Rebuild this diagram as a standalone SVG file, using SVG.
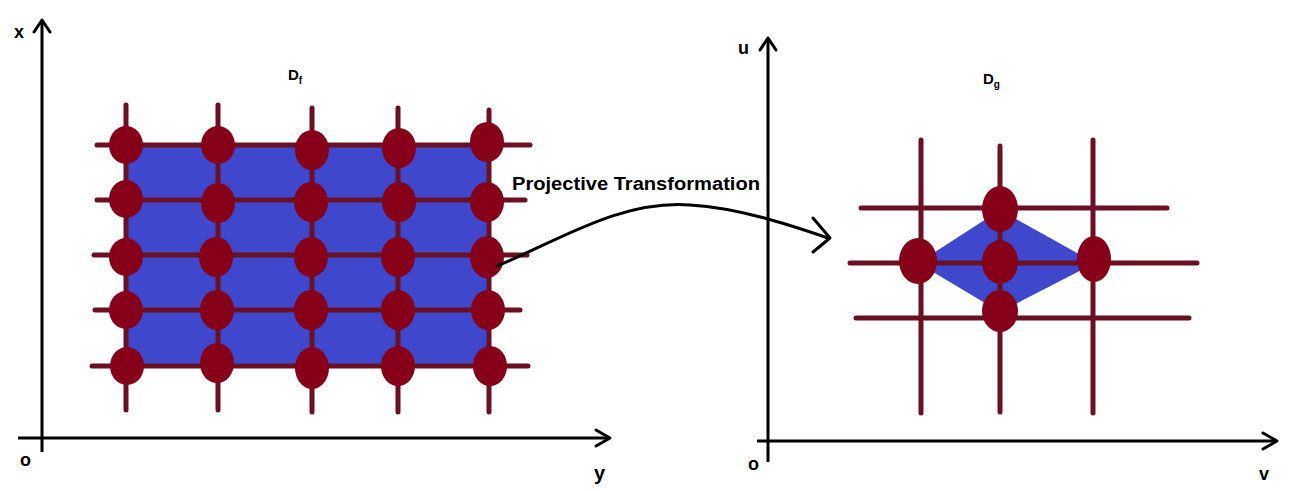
<svg xmlns="http://www.w3.org/2000/svg" width="1292" height="491" viewBox="0 0 1292 491">
<style>
.ax{stroke:#000;stroke-width:3;fill:none}
.ah{stroke:#000;stroke-width:3;fill:none;stroke-linecap:round;stroke-linejoin:round}
.gl{stroke:#6b0f22;stroke-width:5;stroke-linecap:round}
.dot{fill:#860019}
.reg{fill:#3f48cc}
text{font-family:"Liberation Sans",Arial,sans-serif;font-weight:bold;fill:#000}
</style>
<rect width="1292" height="491" fill="#fff"/>
<g id="axes-left">
<line class="ax" x1="42" y1="452" x2="42" y2="20"/>
<polyline class="ah" points="34,32 42,20 50,32"/>
<line class="ax" x1="18" y1="438" x2="610" y2="438"/>
<polyline class="ah" points="596,430 610,438 596,446"/>
<text x="14" y="38" font-size="18">x</text>
<text x="20" y="466" font-size="18">o</text>
<text x="594" y="480" font-size="20">y</text>
</g>
<g id="axes-right">
<line class="ax" x1="768" y1="462" x2="768" y2="38"/>
<polyline class="ah" points="760,50 768,38 776,50"/>
<line class="ax" x1="757" y1="441" x2="1277" y2="441"/>
<polyline class="ah" points="1263,433 1277,441 1263,449"/>
<text x="738" y="54" font-size="18">u</text>
<text x="748" y="470" font-size="18">o</text>
<text x="1259" y="480" font-size="18">v</text>
</g>
<g id="Df">
<rect class="reg" x="126" y="145" width="363" height="221"/>
<g>
<line class="gl" x1="126" y1="105" x2="126" y2="410"/>
<line class="gl" x1="218" y1="105" x2="218" y2="410"/>
<line class="gl" x1="312" y1="108" x2="312" y2="412"/>
<line class="gl" x1="398" y1="108" x2="398" y2="412"/>
<line class="gl" x1="489" y1="110" x2="489" y2="412"/>
<line class="gl" x1="97" y1="145" x2="530" y2="145"/>
<line class="gl" x1="97" y1="200" x2="525" y2="200"/>
<line class="gl" x1="94" y1="255" x2="527" y2="255"/>
<line class="gl" x1="95" y1="310" x2="520" y2="310"/>
<line class="gl" x1="92" y1="366" x2="528" y2="366"/>
</g>
<g class="dot">
<ellipse cx="126" cy="145" rx="17" ry="19"/><ellipse cx="218" cy="145" rx="17" ry="19"/><ellipse cx="312" cy="150" rx="17" ry="20"/><ellipse cx="399" cy="148" rx="17" ry="20"/><ellipse cx="487" cy="142" rx="17" ry="20"/>
<ellipse cx="126" cy="199" rx="17" ry="19"/><ellipse cx="218" cy="203" rx="17" ry="20"/><ellipse cx="311" cy="202" rx="17" ry="20"/><ellipse cx="399" cy="202" rx="17" ry="20"/><ellipse cx="487" cy="202" rx="17" ry="20"/>
<ellipse cx="126" cy="257" rx="17" ry="19"/><ellipse cx="216" cy="257" rx="17" ry="20"/><ellipse cx="311" cy="257" rx="17" ry="20"/><ellipse cx="398" cy="257" rx="17" ry="20"/><ellipse cx="487" cy="257" rx="17" ry="21"/>
<ellipse cx="126" cy="310" rx="17" ry="19"/><ellipse cx="217" cy="310" rx="17" ry="20"/><ellipse cx="311" cy="310" rx="17" ry="20"/><ellipse cx="398" cy="310" rx="17" ry="20"/><ellipse cx="488" cy="310" rx="17" ry="20"/>
<ellipse cx="127" cy="366" rx="17" ry="19"/><ellipse cx="217" cy="363" rx="17" ry="20"/><ellipse cx="312" cy="368" rx="17" ry="21"/><ellipse cx="398" cy="366" rx="17" ry="20"/><ellipse cx="490" cy="366" rx="17" ry="20"/>
</g>
<text x="288" y="80" font-size="15">D<tspan font-size="10" dy="4">f</tspan></text>
</g>
<g id="Dg">
<polygon class="reg" points="918,263 1000,210 1095,263 1000,312"/>
<line class="gl" x1="921" y1="140" x2="921" y2="413"/>
<line class="gl" x1="1000" y1="146" x2="1000" y2="412"/>
<line class="gl" x1="1093" y1="140" x2="1093" y2="413"/>
<line class="gl" x1="861" y1="208" x2="1167" y2="208"/>
<line class="gl" x1="850" y1="263" x2="1197" y2="263"/>
<line class="gl" x1="856" y1="318" x2="1189" y2="318"/>
<g class="dot">
<ellipse cx="1000" cy="209" rx="18" ry="23"/>
<ellipse cx="918" cy="261" rx="19" ry="23"/>
<ellipse cx="1000" cy="262" rx="18" ry="22"/>
<ellipse cx="1094" cy="259" rx="17" ry="23"/>
<ellipse cx="1000" cy="311" rx="18" ry="21"/>
</g>
<text x="983" y="84" font-size="15">D<tspan font-size="10" dy="4">g</tspan></text>
</g>
<g id="connectors">
<path class="ah" stroke-width="4" d="M497,266 C560,240 620,200 690,205 C740,208 790,225 828,238"/>
<polyline class="ah" stroke-width="4" points="813,218 830,238 813,252"/>
</g>
<text x="512" y="190" font-size="18" textLength="248" lengthAdjust="spacingAndGlyphs">Projective Transformation</text>
</svg>
